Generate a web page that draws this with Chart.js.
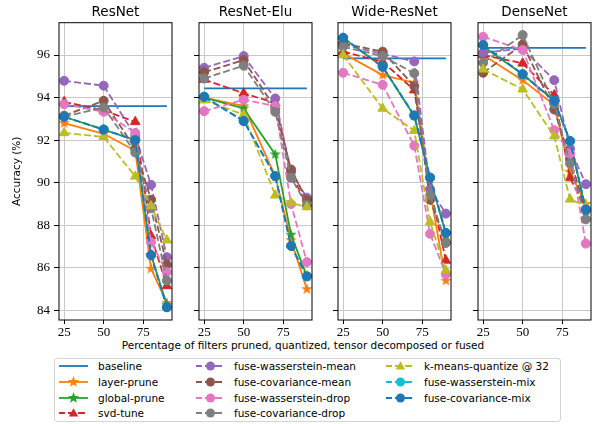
<!DOCTYPE html>
<html>
<head>
<meta charset="utf-8">
<script src="https://cdn.jsdelivr.net/npm/chart.js@4.4.1/dist/chart.umd.min.js"></script>
<style>
  body { margin: 0; background: #fff; width: 612px; height: 424px; position: relative; overflow: hidden; font-family: "DejaVu Sans", sans-serif; }
  canvas.panel { position: absolute; top: 0; }
  #xlabel { position: absolute; left: 0; width: 606px; top: 339px; text-align: center; font-size: 10.5px; color: #000; white-space: nowrap; }
  #legend { position: absolute; left: 54px; top: 358px; width: 505px; height: 62px; border: 1px solid #d4d4d4; border-radius: 3px; background: #fff; }
  .item { position: absolute; height: 14px; font-size: 10.5px; line-height: 14px; white-space: nowrap; }
  .item canvas { position: absolute; left: 0; top: 1px; }
  .item span { position: absolute; }
</style>
</head>
<body>
<div id="xlabel">Percentage of filters pruned, quantized, tensor decomposed or fused</div>
<div id="legend"></div>
<script>
// ---- data ----
const nets = ['ResNet', 'ResNet-Elu', 'Wide-ResNet', 'DenseNet'];
const pct = [25, 50, 70, 80, 90];
const xTicks = [25, 50, 75];
const yTicks = [84, 86, 88, 90, 92, 94, 96];

const baseline = [93.6, 94.43, 95.84, 96.34];
// one row per network, values at pct
const layerPrune = [
  [92.8, 92.3, 91.5, 85.96, 84.35],
  [94.0, 93.6, 90.3, 87.3, 85.0],
  [96.08, 95.06, 94.7, 89.6, 85.4],
  [96.0, 94.82, 93.65, 90.5, 89.0]
];
const globalPrune = [
  [93.1, 92.5, 92.0, 86.6, 84.25],
  [94.0, 93.49, 91.33, 87.56, 85.6],
  [96.8, 95.45, 93.14, 90.2, 87.6],
  [96.4, 95.1, 93.85, 91.95, 88.7]
];
const svdTune = [
  [93.8, 93.4, 92.86, 87.5, 85.15],
  [94.85, 94.2, 93.75, 90.4, 89.0],
  [96.16, 95.69, 94.35, 89.8, 86.35],
  [96.0, 95.61, 94.12, 90.22, 88.8]
];
const fuseWassMean = [
  [94.79, 94.56, 92.2, 89.9, 86.5],
  [95.4, 95.95, 93.96, 90.5, 89.3],
  [96.5, 96.05, 95.7, 89.7, 88.55],
  [96.11, 96.3, 94.82, 91.6, 89.93]
];
const fuseCovMean = [
  [93.15, 93.85, 91.6, 89.2, 86.15],
  [95.19, 95.76, 93.5, 90.62, 89.18],
  [96.55, 96.16, 94.54, 89.2, 87.2],
  [95.17, 96.5, 93.44, 91.1, 88.7]
];
const fuseWassDrop = [
  [93.69, 93.33, 92.34, 87.2, 85.8],
  [93.36, 93.9, 93.6, 89.0, 86.27],
  [95.17, 94.6, 91.74, 87.6, 85.7],
  [96.86, 96.24, 92.47, 91.37, 87.14]
];
const fuseCovDrop = [
  [93.1, 93.54, 91.42, 88.8, 85.4],
  [94.9, 95.5, 93.33, 90.23, 88.94],
  [96.39, 95.95, 95.14, 89.41, 87.17],
  [95.64, 96.94, 93.7, 90.9, 88.28]
];
const kmeansQuant = [
  [92.34, 92.15, 90.3, 88.9, 87.3],
  [93.88, 93.2, 89.41, 89.05, 88.86],
  [96.0, 93.49, 92.44, 88.16, 85.88],
  [95.33, 94.39, 92.19, 89.22, 88.9]
];
const fuseWassMix = [
  [93.1, 92.5, 92.0, 86.6, 84.15],
  [94.04, 92.9, 90.31, 87.03, 85.6],
  [96.81, 95.45, 93.16, 90.24, 87.64],
  [96.47, 95.1, 93.85, 91.96, 88.74]
];
const fuseCovMix = [
  [93.1, 92.5, 92.0, 86.6, 84.15],
  [94.04, 92.9, 90.31, 87.03, 85.6],
  [96.81, 95.45, 93.16, 90.24, 87.64],
  [96.47, 95.1, 93.85, 91.96, 88.74]
];

// ---- styles ----
const series = [
  { label: 'layer-prune', vals: layerPrune, color: '#ff7f0e', dash: false, marker: 'star' },
  { label: 'global-prune', vals: globalPrune, color: '#2ca02c', dash: false, marker: 'star' },
  { label: 'svd-tune', vals: svdTune, color: '#d62728', dash: true, marker: 'triangle' },
  { label: 'fuse-wasserstein-mean', vals: fuseWassMean, color: '#9467bd', dash: true, marker: 'circle' },
  { label: 'fuse-covariance-mean', vals: fuseCovMean, color: '#8c564b', dash: true, marker: 'circle' },
  { label: 'fuse-wasserstein-drop', vals: fuseWassDrop, color: '#e377c2', dash: true, marker: 'circle' },
  { label: 'fuse-covariance-drop', vals: fuseCovDrop, color: '#7f7f7f', dash: true, marker: 'circle' },
  { label: 'k-means-quantize @ 32', vals: kmeansQuant, color: '#bcbd22', dash: true, marker: 'triangle' },
  { label: 'fuse-wasserstein-mix', vals: fuseWassMix, color: '#17becf', dash: true, marker: 'circle' },
  { label: 'fuse-covariance-mix', vals: fuseCovMix, color: '#1f77b4', dash: true, marker: 'circle' }
];
const baseColor = '#1f77b4';
const DASH = [7, 3];
const LW = 1.8;
const SERIF = "'Liberation Serif', 'DejaVu Serif', serif";

const PLOT_TOP = 22.7, PLOT_H = 296.8, PLOT_W = 116.4;
const FIRST_LEFT = 59, STEP = 139.5, X_AXIS_H = 32;

function drawStar(c, x, y, R, color) {
  const r = R * 0.4;
  c.beginPath();
  for (let k = 0; k < 10; k++) {
    const a = -Math.PI / 2 + k * Math.PI / 5;
    const rr = k % 2 ? r : R;
    c.lineTo(x + rr * Math.cos(a), y + rr * Math.sin(a));
  }
  c.closePath();
  c.fillStyle = color;
  c.fill();
}

function starImage(color) {
  const cv = document.createElement('canvas');
  cv.width = cv.height = 14;
  drawStar(cv.getContext('2d'), 7, 7, 6, color);
  return cv;
}

function pointOpts(s) {
  if (s.marker === 'star') return { pointStyle: starImage(s.color), pointRadius: 6 };
  if (s.marker === 'triangle') return { pointStyle: 'triangle', pointRadius: 5.5 };
  return { pointStyle: 'circle', pointRadius: 4.5 };
}

const framePlugin = {
  id: 'frame',
  afterDraw(chart) {
    const a = chart.chartArea, c = chart.ctx;
    c.save();
    c.strokeStyle = '#000';
    c.lineWidth = 1;
    c.strokeRect(a.left, a.top, a.right - a.left, a.bottom - a.top);
    c.restore();
  }
};

nets.forEach((net, i) => {
  const plotLeft = FIRST_LEFT + i * STEP;
  const padL = i === 0 ? plotLeft : 12;
  const cv = document.createElement('canvas');
  cv.className = 'panel';
  cv.width = Math.round(padL + PLOT_W + 4);
  cv.height = Math.round(PLOT_TOP + PLOT_H + X_AXIS_H);
  cv.style.left = (plotLeft - padL) + 'px';
  document.body.appendChild(cv);

  const datasets = [{
    label: 'baseline',
    data: [{ x: pct[0], y: baseline[i] }, { x: pct[pct.length - 1], y: baseline[i] }],
    borderColor: baseColor, borderWidth: LW, pointRadius: 0, order: 0
  }];
  series.forEach((s, k) => {
    datasets.push(Object.assign({
      label: s.label,
      data: pct.map((x, j) => ({ x: x, y: s.vals[i][j] })),
      borderColor: s.color,
      backgroundColor: s.color,
      pointBackgroundColor: s.color,
      pointBorderColor: s.color,
      pointBorderWidth: 1,
      borderWidth: LW,
      borderDash: s.dash ? DASH : [],
      order: -(k + 1)
    }, pointOpts(s)));
  });

  new Chart(cv, {
    type: 'line',
    data: { datasets: datasets },
    plugins: [framePlugin],
    options: {
      responsive: false,
      animation: false,
      events: [],
      layout: { padding: { left: 0, right: 4, top: 0, bottom: 0 } },
      plugins: {
        legend: { display: false },
        tooltip: { enabled: false },
        title: {
          display: true, text: net, fullSize: false, color: '#000',
          font: { family: 'DejaVu Sans', size: 13.5, weight: 'normal' },
          padding: { top: 4, bottom: 2.5 }
        }
      },
      scales: {
        x: {
          type: 'linear', min: 21.75, max: 93.25,
          afterBuildTicks: sc => { sc.ticks = xTicks.map(v => ({ value: v })); },
          afterFit: sc => { sc.height = X_AXIS_H; },
          grid: { color: '#c8c8c8', lineWidth: 1, tickColor: '#000', tickLength: 4, drawTicks: true },
          border: { display: false },
          ticks: { color: '#000', padding: 1, maxRotation: 0, font: { family: SERIF, size: 13 } }
        },
        y: {
          type: 'linear', min: 83.55, max: 97.52,
          afterBuildTicks: sc => { sc.ticks = yTicks.map(v => ({ value: v })); },
          afterFit: sc => { sc.width = padL; },
          grid: { color: '#c8c8c8', lineWidth: 1, tickColor: '#000', tickLength: 5, drawTicks: true },
          border: { display: false },
          ticks: { display: i === 0, color: '#000', padding: 4, font: { family: SERIF, size: 13 } },
          title: {
            display: i === 0, text: 'Accuracy (%)', color: '#000',
            font: { family: 'DejaVu Sans', size: 10.5 },
            padding: { top: 11, bottom: 0 }
          }
        }
      }
    }
  });
});

// ---- legend ----
const legendItems = [{ label: 'baseline', color: baseColor, dash: false, marker: null }].concat(series);
const colX = [4, 141, 331];
const textX = [43, 179, 369];
const rowY = [0, 15.8, 31.6, 47.4];
const legend = document.getElementById('legend');
legendItems.forEach((s, n) => {
  const col = Math.floor(n / 4), row = n % 4;
  const div = document.createElement('div');
  div.className = 'item';
  div.style.left = colX[col] + 'px';
  div.style.top = rowY[row] + 'px';
  const cv = document.createElement('canvas');
  cv.width = 29; cv.height = 12;
  const c = cv.getContext('2d');
  c.strokeStyle = s.color; c.lineWidth = LW;
  c.setLineDash(s.dash ? DASH : []);
  c.lineDashOffset = s.dash ? 1 : 0;
  c.beginPath(); c.moveTo(0, 6); c.lineTo(29, 6); c.stroke();
  c.setLineDash([]);
  c.fillStyle = s.color;
  if (s.marker === 'circle') { c.beginPath(); c.arc(14.5, 6, 4.5, 0, Math.PI * 2); c.fill(); }
  else if (s.marker === 'triangle') {
    c.beginPath();
    for (let k = 0; k < 3; k++) {
      const a = -Math.PI / 2 + k * 2 * Math.PI / 3;
      c.lineTo(14.5 + 5.5 * Math.cos(a), 6.8 + 5.5 * Math.sin(a));
    }
    c.closePath(); c.fill();
  } else if (s.marker === 'star') drawStar(c, 14.5, 6, 6, s.color);
  div.appendChild(cv);
  const sp = document.createElement('span');
  sp.style.left = (textX[col] - colX[col]) + 'px';
  sp.textContent = s.label;
  div.appendChild(sp);
  legend.appendChild(div);
});
</script>
</body>
</html>
